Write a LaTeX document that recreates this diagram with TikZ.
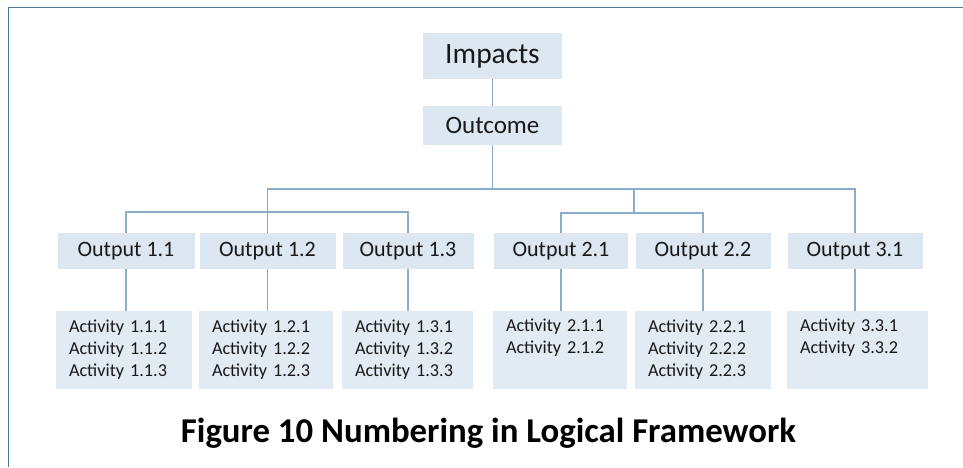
\documentclass[tikz,border=0pt]{standalone}
\usepackage{fontspec}
\setmainfont{Carlito}
\definecolor{boxc}{RGB}{221,231,241}
\definecolor{actc}{RGB}{226,234,243}
\definecolor{linec}{RGB}{140,172,204}
\definecolor{borderc}{RGB}{79,122,160}
\definecolor{textc}{RGB}{25,25,25}
\tikzset{
  topbox/.style={fill=boxc, draw=none, inner sep=0pt, minimum width=139pt, text=textc},
  outbox/.style={fill=boxc, draw=none, inner sep=0pt, minimum height=36pt, text=textc, font=\fontsize{22}{26}\selectfont},
  actbox/.style={fill=actc, draw=none, inner xsep=13pt, inner ysep=0pt, minimum height=78pt, align=left, text=textc, font=\fontsize{18.2}{22}\selectfont},
  conn/.style={draw=linec, line width=1.2pt}
}
\begin{document}
\begin{tikzpicture}[x=1pt,y=-1pt]
\useasboundingbox (0,0) rectangle (963,467);
\fill[white] (0,0) rectangle (963,467);
\draw[borderc, line width=1.8pt] (8.5,467) -- (8.5,7.5) -- (963,7.5);

\node[topbox, minimum height=46pt, font=\fontsize{29.5}{34}\selectfont] (imp) at (492.5,56) {Impacts};
\node[topbox, minimum height=39pt, font=\fontsize{25}{30}\selectfont] (out) at (492.5,125.5) {Outcome};

\node[outbox, minimum width=137pt] (o11) at (126,251) {Output 1.1};
\node[outbox, minimum width=136pt] (o12) at (267.5,251) {Output 1.2};
\node[outbox, minimum width=131pt] (o13) at (408,251) {Output 1.3};
\node[outbox, minimum width=134pt] (o21) at (561,251) {Output 2.1};
\node[outbox, minimum width=135pt] (o22) at (703,251) {Output 2.2};
\node[outbox, minimum width=135pt] (o31) at (855,251) {Output 3.1};

\node[actbox, minimum width=136pt, text width=110pt] (a11) at (124,350) {Activity 1.1.1\\Activity 1.1.2\\Activity 1.1.3};
\node[actbox, minimum width=134pt, text width=108pt] (a12) at (266,350) {Activity 1.2.1\\Activity 1.2.2\\Activity 1.2.3};
\node[actbox, minimum width=131pt, text width=105pt] (a13) at (407.5,350) {Activity 1.3.1\\Activity 1.3.2\\Activity 1.3.3};
\node[actbox, minimum width=134pt, text width=108pt] (a21) at (560,350) {Activity 2.1.1\\Activity 2.1.2\\\strut};
\node[actbox, minimum width=136pt, text width=110pt] (a22) at (703,350) {Activity 2.2.1\\Activity 2.2.2\\Activity 2.2.3};
\node[actbox, minimum width=141pt, text width=115pt] (a31) at (857.5,350) {Activity 3.3.1\\Activity 3.3.2\\\strut};

\coordinate (j0) at (492.5,189);
\coordinate (j1) at (634,189);
\coordinate (h1) at (267.5,212);
\coordinate (h2) at (634,213);

\draw[conn] (imp.south) -- (out.north);
\draw[conn] (out.south) -- (j0);
\draw[conn] (o12.north) |- (j0) -| (o31.north);
\draw[conn] (o11.north) |- (h1) -| (o13.north);
\draw[conn] (j1) -- (h2);
\draw[conn] (o21.north) |- (h2) -| (o22.north);

\foreach \o/\a in {o11/a11,o12/a12,o13/a13,o21/a21,o22/a22,o31/a31}
  \draw[conn] (\o.south) -- (\o.south |- \a.north);

\node[font=\bfseries\fontsize{34.8}{40}\selectfont, text=black] (cap) at (488.5,433.5) {Figure 10 Numbering in Logical Framework};
\end{tikzpicture}
\end{document}
